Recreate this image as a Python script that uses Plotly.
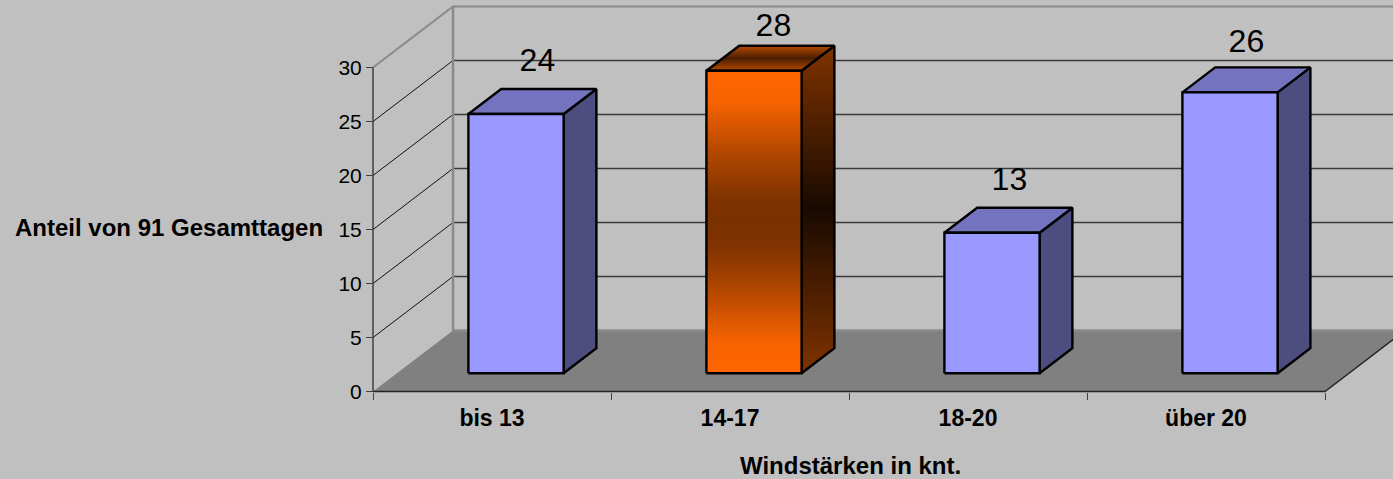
import plotly.graph_objects as go

categories = ["bis 13", "14-17", "18-20", "über 20"]
values = [24, 28, 13, 26]
y_ticks = [0, 5, 10, 15, 20, 25, 30]
y_title = "Anteil von 91 Gesamttagen"
x_title = "Windstärken in knt."

W, H = 1393, 479
X0, PX_CAT = 373.0, 238.0       # pixel of first category edge, pixels per category
Y0, PX_VAL = 391.5, 10.8        # pixel of value 0, pixels per value unit
DEPTH_X = 80.0 / PX_CAT         # full chart depth in category units
DEPTH_Y = 61.0 / PX_VAL         # full chart depth in value units
BAR_W = 0.4
BAR_D0, BAR_D1 = 0.30, 0.71
LABEL_LIFT = [26, 18, 26, 23]   # pixels above the bar's rear top edge
LABEL_NUDGE = [5, 3, 1, 0]      # pixels right of the bar's centre
FONT = "Liberation Sans, Arial, sans-serif"
GREY = "#808080"
LINE = "#3a3a3a"


def proj(c, d, v):
    """Category position c, depth d (0 front..1 back), value v -> axis coordinates."""
    return c + d * DEPTH_X, v + d * DEPTH_Y


def poly(points, fill=None, line_color=None, width=1, gradient=None, closed=True):
    xy = [proj(*p) for p in points]
    if closed:
        xy.append(xy[0])
    kw = {}
    if fill is not None:
        kw["fill"] = "toself"
        kw["fillcolor"] = fill
    if gradient is not None:
        kw["fill"] = "toself"
        kw["fillgradient"] = dict(type="vertical", colorscale=gradient)
    return go.Scatter(
        x=[p[0] for p in xy], y=[p[1] for p in xy], mode="lines",
        line=dict(color=line_color or "rgba(0,0,0,0)", width=width, simplify=False),
        hoverinfo="skip", showlegend=False, **kw)


fig = go.Figure()
n = len(categories)
vmax = y_ticks[-1]

# floor
fig.add_trace(poly([(0, 0, 0), (0, 1, 0), (n, 1, 0), (n, 0, 0)], fill=GREY))

# gridlines on side wall and back wall
for t in y_ticks[1:-1]:
    fig.add_trace(poly([(0, 0, t), (0, 1, t)], line_color="#111111", width=1, closed=False))
    fig.add_trace(poly([(0, 1, t), (n, 1, t)], line_color=LINE, width=1.3, closed=False))

# wall frame
fig.add_trace(poly([(0, 0, vmax), (0, 1, vmax), (n, 1, vmax)], line_color="#8a8a8a", width=2, closed=False))
fig.add_trace(poly([(0, 1, vmax), (0, 1, 0), (n, 1, 0)], line_color="#8a8a8a", width=2.5, closed=False))

# floor front and right edges, y axis line
fig.add_trace(poly([(0, 0, 0), (n, 0, 0), (n, 1, 0)], line_color="#222222", width=1.3, closed=False))
fig.add_trace(poly([(0, 0, 0), (0, 0, vmax)], line_color="#404040", width=1.5, closed=False))

ORANGE_FRONT = [[0, "#FF6600"], [0.1, "#F86300"], [0.3, "#A84300"], [0.42, "#803300"], [0.5, "#7A3100"],
                [0.58, "#803300"], [0.7, "#A84300"], [0.9, "#F86300"], [1, "#FF6600"]]
ORANGE_SIDE = [[0, "#803300"], [0.5, "#190A00"], [1, "#803300"]]
ORANGE_TOP = [[0, "#B84A00"], [0.5, "#4A1E00"], [1, "#B84A00"]]

for i, v in enumerate(values):
    c0 = i + 0.5 - BAR_W / 2
    c1 = i + 0.5 + BAR_W / 2
    d0, d1 = BAR_D0, BAR_D1
    hi = i == 1
    side = [(c1, d0, 0), (c1, d1, 0), (c1, d1, v), (c1, d0, v)]
    top = [(c0, d0, v), (c1, d0, v), (c1, d1, v), (c0, d1, v)]
    front = [(c0, d0, 0), (c1, d0, 0), (c1, d0, v), (c0, d0, v)]
    for pts, solid, grad in (
        (side, "#4D4D80", ORANGE_SIDE),
        (top, "#7373BF", ORANGE_TOP),
        (front, "#9999FF", ORANGE_FRONT),
    ):
        if hi:
            fig.add_trace(poly(pts, line_color="#000000", width=2.4, gradient=grad))
        else:
            fig.add_trace(poly(pts, fill=solid, line_color="#000000", width=2.4))

# value labels
lx, ly = [], []
for i, v in enumerate(values):
    x, y = proj(i + 0.5, (BAR_D0 + BAR_D1) / 2, v)
    rear_y = proj(i + 0.5, BAR_D1, v)[1]
    lx.append(x + LABEL_NUDGE[i] / PX_CAT)
    ly.append(rear_y + LABEL_LIFT[i] / PX_VAL)
fig.add_trace(go.Scatter(
    x=lx, y=ly, mode="text", text=[str(v) for v in values],
    textposition="middle center",
    textfont=dict(family=FONT, size=32, color="#000000"),
    hoverinfo="skip", showlegend=False))

fig.update_layout(
    width=W, height=H, autosize=False,
    margin=dict(l=0, r=0, t=0, b=0),
    paper_bgcolor="#C0C0C0", plot_bgcolor="#C0C0C0",
    showlegend=False,
    xaxis=dict(
        domain=[0, 1], range=[-X0 / PX_CAT, (W - X0) / PX_CAT],
        anchor="free", position=(H - Y0) / H,
        showgrid=False, zeroline=False, showline=False,
        tickmode="array", tickvals=[i + 0.5 for i in range(n)], ticktext=categories,
        ticks="outside", ticklen=6, tickcolor="rgba(0,0,0,0)",
        tickfont=dict(family=FONT, size=23, color="#000000", weight="bold"),
        minor=dict(tickmode="array", tickvals=list(range(n + 1)), ticks="outside",
                   ticklen=7, tickcolor="#404040", tickwidth=1.3, showgrid=False),
    ),
    yaxis=dict(
        domain=[0, 1], range=[-(H - Y0) / PX_VAL, Y0 / PX_VAL],
        anchor="free", position=X0 / W,
        showgrid=False, zeroline=False, showline=False,
        tickmode="array", tickvals=y_ticks,
        ticks="outside", ticklen=7, tickcolor="#404040", tickwidth=1.3,
        tickfont=dict(family=FONT, size=21, color="#000000"),
    ),
    annotations=[
        dict(x=13 / W, y=1 - 228 / H, xref="paper", yref="paper", text=y_title,
             showarrow=False, xanchor="left", yanchor="middle",
             font=dict(family=FONT, size=24, color="#000000", weight="bold")),
        dict(x=850 / W, y=1 - 465 / H, xref="paper", yref="paper", text=x_title,
             showarrow=False, xanchor="center", yanchor="middle",
             font=dict(family=FONT, size=24, color="#000000", weight="bold")),
    ],
)

fig.write_html("out.html", config=dict(displayModeBar=False),
               post_script="document.body.style.margin='0';document.documentElement.style.background='#C0C0C0';")
